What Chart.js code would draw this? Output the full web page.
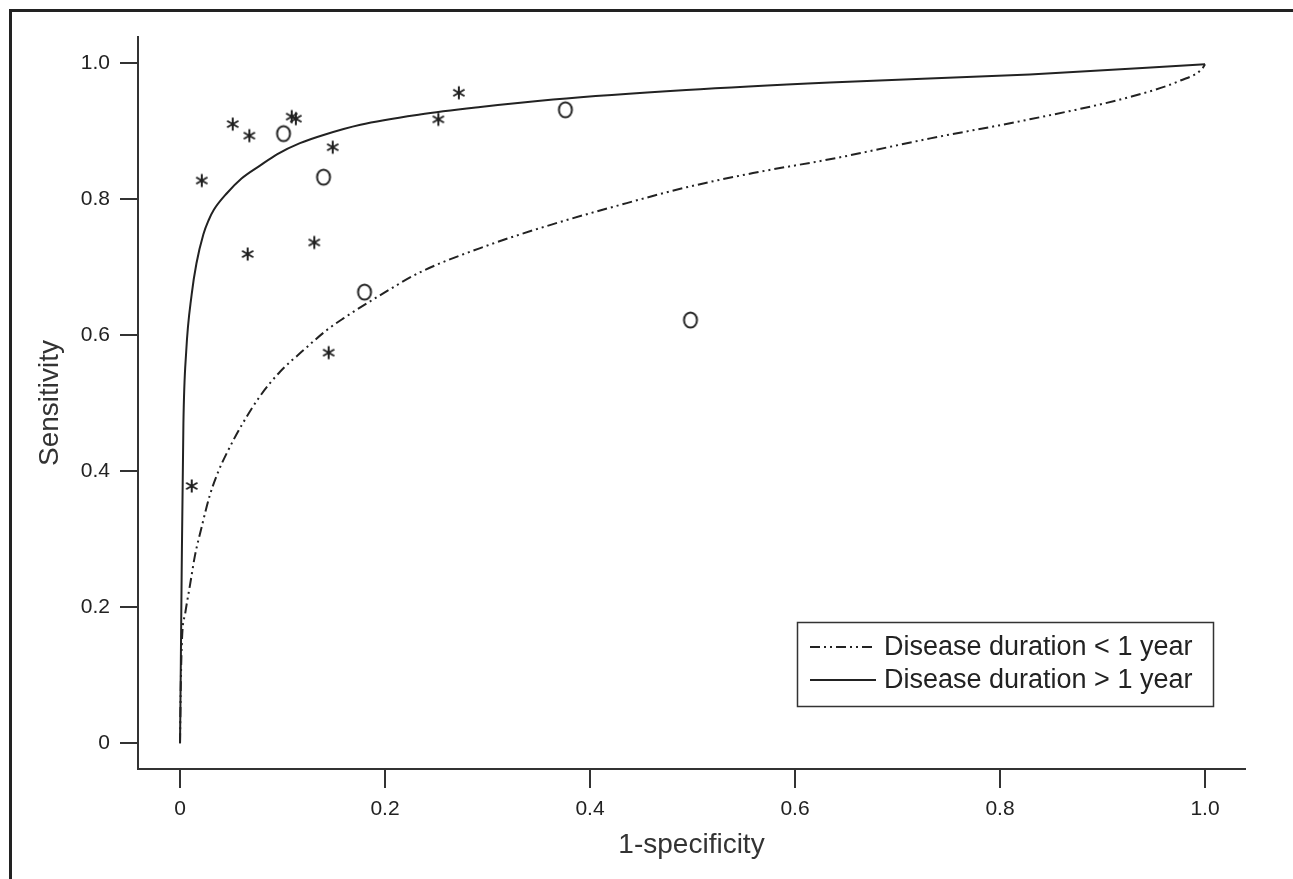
<!DOCTYPE html>
<html>
<head>
<meta charset="utf-8">
<script src="https://cdn.jsdelivr.net/npm/chart.js@4.4.1/dist/chart.umd.min.js"></script>
<style>
  html, body { margin: 0; padding: 0; background: #fff; overflow: hidden; }
  #frame { position: absolute; left: 9px; top: 9px; width: 1300px; height: 900px; border-left: 3px solid #222; border-top: 3px solid #222; }
  #wrap { position: absolute; left: 0; top: 0; width: 1293px; height: 879px; }
</style>
</head>
<body>
<div id="frame"></div>
<div id="wrap"><canvas id="roc" width="1293" height="879"></canvas></div>
<script>
// axis ticks
const xTicks = [0, 0.2, 0.4, 0.6, 0.8, 1.0];
const yTicks = [0, 0.2, 0.4, 0.6, 0.8, 1.0];
const tickLabels = ['0', '0.2', '0.4', '0.6', '0.8', '1.0'];

// fitted curve, disease duration < 1 year (dash-dot-dot)
const shortFpr  = [0, 0.0008, 0.002, 0.005, 0.0098, 0.0146, 0.021, 0.029, 0.037, 0.0455, 0.06, 0.078, 0.0976, 0.12, 0.143, 0.159, 0.197, 0.234, 0.299, 0.364, 0.429, 0.494, 0.559, 0.64, 0.732, 0.829, 0.927, 0.976, 0.997, 1.0];
const shortSens = [0, 0.09, 0.155, 0.19, 0.233, 0.276, 0.317, 0.364, 0.398, 0.426, 0.467, 0.510, 0.546, 0.577, 0.607, 0.624, 0.660, 0.692, 0.731, 0.763, 0.791, 0.817, 0.838, 0.860, 0.889, 0.917, 0.950, 0.974, 0.991, 0.998];

// fitted curve, disease duration > 1 year (solid)
const longFpr  = [0, 0.0008, 0.0016, 0.0033, 0.006, 0.0114, 0.016, 0.0228, 0.028, 0.033, 0.0455, 0.06, 0.078, 0.095, 0.117, 0.14, 0.176, 0.234, 0.293, 0.364, 0.494, 0.634, 0.829, 1.0];
const longSens = [0, 0.12, 0.25, 0.47, 0.575, 0.66, 0.705, 0.748, 0.769, 0.784, 0.808, 0.830, 0.849, 0.866, 0.882, 0.894, 0.909, 0.924, 0.935, 0.946, 0.960, 0.971, 0.983, 0.998];

// study points
const starFpr  = [0.0514, 0.0676, 0.109, 0.113, 0.0212, 0.149, 0.066, 0.131, 0.252, 0.272, 0.145, 0.0114];
const starSens = [0.910, 0.893, 0.921, 0.918, 0.827, 0.876, 0.719, 0.736, 0.917, 0.956, 0.574, 0.378];
const ringFpr  = [0.101, 0.140, 0.180, 0.376, 0.498];
const ringSens = [0.896, 0.832, 0.663, 0.931, 0.622];

const legendLabels = ['Disease duration < 1 year', 'Disease duration > 1 year'];

const ink = '#222';
const fontFamily = '"Liberation Sans", Arial, sans-serif';
const dashDotDot = [10, 4, 2, 4, 2, 4];

function pts(xs, ys) {
  return xs.map((x, i) => ({ x: x, y: ys[i] }));
}

function glyph(draw) {
  const c = document.createElement('canvas');
  c.width = 20; c.height = 20;
  const g = c.getContext('2d');
  g.strokeStyle = ink;
  draw(g);
  return c;
}
const ringMark = glyph(g => {
  g.lineWidth = 2;
  g.beginPath();
  g.ellipse(10, 10, 6.5, 7.5, 0, 0, Math.PI * 2);
  g.stroke();
});
const starMark = glyph(g => {
  g.lineWidth = 2;
  for (let k = 0; k < 3; k++) {
    const a = Math.PI / 2 + k * Math.PI / 3;
    g.beginPath();
    g.moveTo(10 + 6.5 * Math.cos(a), 10 - 6.5 * Math.sin(a));
    g.lineTo(10 - 6.5 * Math.cos(a), 10 + 6.5 * Math.sin(a));
    g.stroke();
  }
});

// legend box drawn inside the plot
const legendBox = {
  id: 'legendBox',
  afterDraw(chart) {
    const ctx = chart.ctx;
    ctx.save();
    ctx.strokeStyle = '#333';
    ctx.lineWidth = 1.5;
    ctx.strokeRect(797.5, 622.5, 416, 84);
    ctx.font = '27px ' + fontFamily;
    ctx.fillStyle = ink;
    ctx.textBaseline = 'middle';
    legendLabels.forEach((txt, i) => {
      const y = 647 + i * 33;
      const ds = chart.data.datasets[i];
      ctx.strokeStyle = ink;
      ctx.lineWidth = 2;
      ctx.setLineDash(ds.borderDash || []);
      ctx.beginPath();
      ctx.moveTo(810, y);
      ctx.lineTo(876, y);
      ctx.stroke();
      ctx.setLineDash([]);
      ctx.fillText(txt, 884, y + 1);
    });
    ctx.restore();
  }
};

function fixedTicks(list) {
  return function (scale) {
    scale.ticks = list.map(v => ({ value: v }));
  };
}

new Chart(document.getElementById('roc'), {
  type: 'scatter',
  data: {
    datasets: [
      {
        label: legendLabels[0],
        data: pts(shortFpr, shortSens),
        showLine: true,
        borderColor: ink,
        borderWidth: 2,
        borderDash: dashDotDot,
        pointRadius: 0,
        cubicInterpolationMode: 'monotone',
        fill: false
      },
      {
        label: legendLabels[1],
        data: pts(longFpr, longSens),
        showLine: true,
        borderColor: ink,
        borderWidth: 2,
        pointRadius: 0,
        cubicInterpolationMode: 'monotone',
        fill: false
      },
      {
        label: 'stars',
        data: pts(starFpr, starSens),
        pointStyle: starMark,
        pointRadius: 7
      },
      {
        label: 'rings',
        data: pts(ringFpr, ringSens),
        pointStyle: ringMark,
        pointRadius: 7
      }
    ]
  },
  options: {
    responsive: false,
    animation: false,
    layout: { padding: { left: 0, top: 37, right: 48, bottom: 0 } },
    plugins: {
      legend: { display: false },
      tooltip: { enabled: false }
    },
    scales: {
      x: {
        type: 'linear',
        min: -0.041,
        max: 1.039,
        afterBuildTicks: fixedTicks(xTicks),
        afterFit: s => { s.height = 110; },
        border: { display: true, color: '#333', width: 2 },
        grid: { drawOnChartArea: false, drawTicks: true, tickLength: 19, color: '#333', lineWidth: 2 },
        ticks: {
          padding: 9,
          color: '#222',
          font: { family: fontFamily, size: 21 },
          callback: v => tickLabels[xTicks.indexOf(v)]
        },
        title: {
          display: true,
          text: '1-specificity',
          color: '#333',
          font: { family: fontFamily, size: 28 },
          padding: { top: 0, bottom: 17 }
        }
      },
      y: {
        type: 'linear',
        min: -0.038,
        max: 1.038,
        afterBuildTicks: fixedTicks(yTicks),
        afterFit: s => { s.width = 138; },
        border: { display: true, color: '#333', width: 2 },
        grid: { drawOnChartArea: false, drawTicks: true, tickLength: 18, color: '#333', lineWidth: 2 },
        ticks: {
          padding: 10,
          color: '#222',
          font: { family: fontFamily, size: 21 },
          callback: v => tickLabels[yTicks.indexOf(v)]
        },
        title: {
          display: true,
          text: 'Sensitivity',
          color: '#333',
          font: { family: fontFamily, size: 28 },
          padding: { top: 33, bottom: 0 }
        }
      }
    }
  },
  plugins: [legendBox]
});
</script>
</body>
</html>
